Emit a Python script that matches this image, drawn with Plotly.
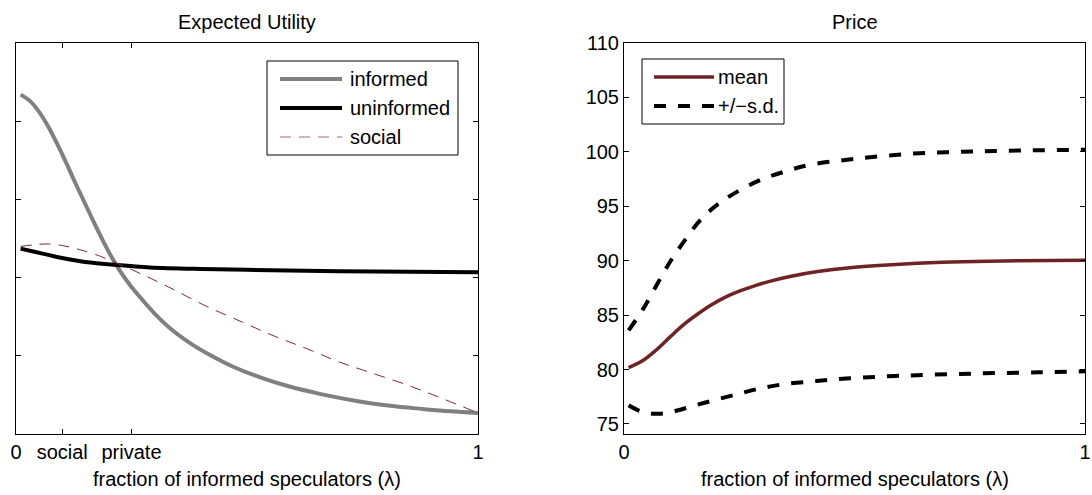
import plotly.graph_objects as go

# ---- Expected utility (arbitrary units) vs fraction of informed speculators ----
lam_informed = [0.01, 0.03, 0.05, 0.07, 0.09, 0.11, 0.13, 0.15, 0.17, 0.19, 0.21, 0.23,
                0.25, 0.27, 0.30, 0.34, 0.38, 0.42, 0.47, 0.53, 0.59, 0.66, 0.74, 0.81,
                0.88, 0.94, 1.00]
eu_informed = [4.34, 4.26, 4.12, 3.93, 3.70, 3.45, 3.19, 2.94, 2.69, 2.45, 2.23, 2.04,
               1.88, 1.74, 1.54, 1.32, 1.15, 1.01, 0.86, 0.72, 0.61, 0.51, 0.42, 0.36,
               0.32, 0.29, 0.27]

lam_uninformed = [0.01, 0.04, 0.07, 0.10, 0.15, 0.22, 0.29, 0.40, 0.50, 0.70, 1.00]
eu_uninformed = [2.37, 2.33, 2.29, 2.25, 2.20, 2.16, 2.13, 2.11, 2.10, 2.08, 2.07]

lam_social = [0.01, 0.04, 0.07, 0.10, 0.13, 0.17, 0.22, 0.27, 0.33, 0.41, 0.49, 0.56,
              0.63, 0.70, 0.77, 0.85, 0.92, 1.00]
eu_social = [2.40, 2.42, 2.43, 2.41, 2.37, 2.30, 2.18, 2.05, 1.88, 1.64, 1.43, 1.25,
             1.09, 0.92, 0.78, 0.62, 0.46, 0.27]

eu_tickvals = [0, 0.1, 0.25, 1]
eu_ticktext = ["0", "social", "private", "1"]

# ---- Price vs fraction of informed speculators ----
lam_mean = [0.01, 0.04, 0.07, 0.10, 0.13, 0.16, 0.19, 0.22, 0.25, 0.28, 0.32, 0.36,
            0.42, 0.49, 0.58, 0.69, 0.79, 1.00]
price_mean = [80.18, 80.8, 81.8, 83.0, 84.15, 85.1, 85.95, 86.65, 87.2, 87.65, 88.15, 88.55,
              89.0, 89.35, 89.62, 89.85, 89.96, 90.05]

lam_upper = [0.01, 0.042, 0.074, 0.10, 0.129, 0.165, 0.201, 0.244, 0.295, 0.346,
             0.403, 0.50, 0.613, 0.722, 0.83, 1.00]
price_upper = [83.6, 85.6, 88.0, 89.9, 91.7, 93.7, 95.1, 96.3, 97.4, 98.15,
               98.8, 99.35, 99.8, 100.0, 100.1, 100.2]

lam_lower = [0.01, 0.035, 0.064, 0.093, 0.129, 0.179, 0.237, 0.288, 0.346, 0.418,
             0.49, 0.613, 0.758, 0.902, 1.00]
price_lower = [76.72, 76.19, 75.95, 76.0, 76.4, 77.0, 77.64, 78.2, 78.65, 78.95,
               79.2, 79.45, 79.63, 79.75, 79.84]

price_ticks = [75, 80, 85, 90, 95, 100, 105, 110]

W, H = 1092, 495
FONT = "Liberation Sans, Arial, Helvetica, sans-serif"
FS = 20
GRAY = "#808080"
DARKRED = "#6e2424"
SOCIAL = "#7a2e2e"


def px(x):
    return x / W


def py(y):
    return 1 - y / H


fig = go.Figure()

fig.add_trace(go.Scatter(x=lam_informed, y=eu_informed, mode="lines", name="informed",
                         line=dict(color=GRAY, width=4, shape="spline"),
                         xaxis="x", yaxis="y"))
fig.add_trace(go.Scatter(x=lam_uninformed, y=eu_uninformed, mode="lines", name="uninformed",
                         line=dict(color="black", width=4, shape="spline"),
                         xaxis="x", yaxis="y"))
fig.add_trace(go.Scatter(x=lam_social, y=eu_social, mode="lines", name="social",
                         line=dict(color=SOCIAL, width=1, dash="11px,8px", shape="spline"),
                         xaxis="x", yaxis="y"))

fig.add_trace(go.Scatter(x=lam_mean, y=price_mean, mode="lines", name="mean",
                         line=dict(color=DARKRED, width=3.5, shape="spline"),
                         xaxis="x2", yaxis="y2"))
fig.add_trace(go.Scatter(x=lam_upper, y=price_upper, mode="lines", name="+/−s.d.",
                         line=dict(color="black", width=4, dash="12px,12px", shape="spline"),
                         xaxis="x2", yaxis="y2"))
fig.add_trace(go.Scatter(x=lam_lower, y=price_lower, mode="lines", name="+/−s.d.",
                         line=dict(color="black", width=4, dash="12px,12px", shape="spline"),
                         xaxis="x2", yaxis="y2", showlegend=False))

axis_common = dict(showgrid=False, zeroline=False, showline=True, linecolor="black",
                   linewidth=1, mirror="ticks", ticks="inside", ticklen=5,
                   tickcolor="black", tickwidth=1, automargin=False,
                   tickfont=dict(family=FONT, size=FS, color="black"))

ydom = [py(434), py(43)]

fig.update_layout(
    template="none",
    width=W, height=H,
    autosize=False,
    margin=dict(l=0, r=0, t=0, b=0, pad=0),
    paper_bgcolor="white", plot_bgcolor="white",
    showlegend=False,
    font=dict(family=FONT, size=FS, color="black"),
    xaxis=dict(domain=[px(16), px(478)], range=[0, 1], anchor="y",
               tickmode="array", tickvals=eu_tickvals, ticktext=eu_ticktext,
               **axis_common),
    yaxis=dict(domain=ydom, range=[0, 5], anchor="x",
               tickmode="array", tickvals=[1, 2, 3, 4], showticklabels=False,
               **axis_common),
    xaxis2=dict(domain=[px(624), px(1085)], range=[0, 1], anchor="y2",
                tickmode="array", tickvals=[0, 1], ticktext=["0", "1"],
                **axis_common),
    yaxis2=dict(domain=ydom, range=[74.08, 110], anchor="x2",
                tickmode="array", tickvals=price_ticks,
                **axis_common),
)

annotations = []
shapes = []

# panel titles and axis titles
for cx, title in [((16 + 478) / 2, "Expected Utility"), ((624 + 1085) / 2, "Price")]:
    annotations.append(dict(x=px(cx), y=py(22), xref="paper", yref="paper",
                            text=title, showarrow=False, xanchor="center", yanchor="middle",
                            font=dict(family=FONT, size=FS, color="black")))
    annotations.append(dict(x=px(cx), y=py(479), xref="paper", yref="paper",
                            text="fraction of informed speculators (λ)", showarrow=False,
                            xanchor="center", yanchor="middle",
                            font=dict(family=FONT, size=FS, color="black")))


# legend boxes
def legend(box, x0, x1, tx, rows):
    bx0, by0, bx1, by1 = box
    shapes.append(dict(type="rect", xref="paper", yref="paper",
                       x0=px(bx0), x1=px(bx1), y0=py(by1), y1=py(by0),
                       line=dict(color="black", width=1), fillcolor="white", layer="above"))
    for yrow, label, line in rows:
        shapes.append(dict(type="line", xref="paper", yref="paper",
                           x0=px(x0), x1=px(x1), y0=py(yrow), y1=py(yrow),
                           line=line, layer="above"))
        annotations.append(dict(x=px(tx), y=py(yrow), xref="paper", yref="paper",
                                text=label, showarrow=False, xanchor="left", yanchor="middle",
                                font=dict(family=FONT, size=FS, color="black")))


legend((267, 61, 458, 155), 280, 342, 348, [
    (79, "informed", dict(color=GRAY, width=4)),
    (108, "uninformed", dict(color="black", width=4)),
    (137, "social", dict(color="#a07070", width=1, dash="11px,8px")),
])
legend((642, 59, 784, 124), 654, 714, 716, [
    (77, "mean", dict(color=DARKRED, width=3.5)),
    (106, "+/−s.d.", dict(color="black", width=4, dash="12px,12px")),
])

fig.update_layout(annotations=annotations, shapes=shapes)

fig.write_html("out.html")
